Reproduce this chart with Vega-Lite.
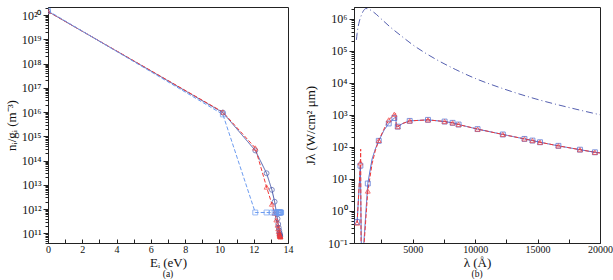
{
  "$schema": "https://vega.github.io/schema/vega-lite/v6.json",
  "padding": {"left": 4, "top": 1, "right": 4, "bottom": 0},
  "bounds": "flush",
  "spacing": 66,
  "config": {
    "font": "Liberation Serif",
    "view": {"stroke": "#222", "strokeWidth": 1},
    "axis": {
      "labelFont": "Liberation Serif", "titleFont": "Liberation Serif",
      "labelFontSize": 10, "titleFontSize": 13, "titleFontWeight": "normal",
      "grid": false, "domainColor": "#222", "tickColor": "#222",
      "labelColor": "#111", "titleColor": "#111", "labelFlush": false, "labelOverlap": false
    },
    "title": {"font": "Liberation Serif", "fontSize": 9.5, "fontWeight": "normal", "color": "#111"}
  },
  "datasets": {
    "lev": [
      {"E": 0, "n": 1.4e20, "s": "A"}, {"E": 10.2, "n": 9.5e15, "s": "A"}, {"E": 12.09, "n": 2.6e14, "s": "A"},
      {"E": 12.75, "n": 3.0e13, "s": "A"}, {"E": 13.06, "n": 6.2e12, "s": "A"}, {"E": 13.22, "n": 2.0e12, "s": "A"},
      {"E": 13.32, "n": 7.5e11, "s": "A"}, {"E": 13.39, "n": 4.0e11, "s": "A"}, {"E": 13.43, "n": 2.4e11, "s": "A"},
      {"E": 13.46, "n": 1.7e11, "s": "A"}, {"E": 13.49, "n": 1.3e11, "s": "A"}, {"E": 13.51, "n": 1.05e11, "s": "A"},
      {"E": 13.52, "n": 9.2e10, "s": "A"}, {"E": 13.53, "n": 8.5e10, "s": "A"}, {"E": 13.54, "n": 8.0e10, "s": "A"},
      {"E": 13.55, "n": 7.6e10, "s": "A"},
      {"E": 0, "n": 1.4e20, "s": "B"}, {"E": 10.2, "n": 1.0e16, "s": "B"}, {"E": 12.09, "n": 3.3e14, "s": "B"},
      {"E": 12.75, "n": 8.1e12, "s": "B"}, {"E": 13.06, "n": 1.6e12, "s": "B"}, {"E": 13.22, "n": 6.8e11, "s": "B"},
      {"E": 13.32, "n": 3.6e11, "s": "B"}, {"E": 13.39, "n": 2.2e11, "s": "B"}, {"E": 13.43, "n": 1.55e11, "s": "B"},
      {"E": 13.46, "n": 1.2e11, "s": "B"}, {"E": 13.49, "n": 1.0e11, "s": "B"}, {"E": 13.51, "n": 8.8e10, "s": "B"},
      {"E": 13.52, "n": 8.2e10, "s": "B"}, {"E": 13.53, "n": 7.8e10, "s": "B"}, {"E": 13.54, "n": 7.5e10, "s": "B"},
      {"E": 13.55, "n": 7.3e10, "s": "B"}, {"E": 13.56, "n": 7.1e10, "s": "B"},
      {"E": 0, "n": 1.5e20, "s": "C"}, {"E": 10.2, "n": 8.0e15, "s": "C"}, {"E": 12.09, "n": 7.2e11, "s": "C"},
      {"E": 12.75, "n": 7.2e11, "s": "C"}, {"E": 13.06, "n": 7.2e11, "s": "C"}, {"E": 13.22, "n": 7.2e11, "s": "C"},
      {"E": 13.32, "n": 7.2e11, "s": "C"}, {"E": 13.39, "n": 7.2e11, "s": "C"}, {"E": 13.43, "n": 7.2e11, "s": "C"},
      {"E": 13.46, "n": 7.2e11, "s": "C"}, {"E": 13.49, "n": 7.2e11, "s": "C"}, {"E": 13.51, "n": 7.2e11, "s": "C"},
      {"E": 13.53, "n": 7.2e11, "s": "C"}, {"E": 13.55, "n": 7.2e11, "s": "C"}, {"E": 13.57, "n": 7.2e11, "s": "C"},
      {"E": 13.6, "n": 7.2e11, "s": "C"}
    ],
    "bb": [
      {"l": 493, "j": 2.2e5}, {"l": 549, "j": 3.5e5}, {"l": 685, "j": 7.1e5}, {"l": 892, "j": 1.3e6},
      {"l": 1084, "j": 1.85e6}, {"l": 1268, "j": 2.1e6}, {"l": 1484, "j": 2.0e6}, {"l": 1883, "j": 1.6e6},
      {"l": 2547, "j": 9.4e5}, {"l": 3210, "j": 5.5e5}, {"l": 4145, "j": 2.8e5}, {"l": 5000, "j": 1.55e5},
      {"l": 5879, "j": 9.2e4}, {"l": 6806, "j": 5.6e4}, {"l": 8404, "j": 2.65e4}, {"l": 10003, "j": 1.38e4},
      {"l": 12137, "j": 6.8e3}, {"l": 14798, "j": 3.2e3}, {"l": 17467, "j": 1.72e3}, {"l": 20048, "j": 1.0e3}
    ],
    "spec": [
      {"l": 549, "j": 0.45, "m": 1, "s": "S"}, {"l": 812, "j": 26, "m": 1, "s": "S"}, {"l": 900, "j": 0.03, "m": 0, "s": "S"},
      {"l": 1000, "j": 0.03, "m": 0, "s": "S"}, {"l": 1404, "j": 7.2, "m": 1, "s": "S"}, {"l": 1750, "j": 42, "m": 0, "s": "S"},
      {"l": 2000, "j": 85, "m": 0, "s": "S"}, {"l": 2283, "j": 155, "m": 1, "s": "S"}, {"l": 2700, "j": 330, "m": 0, "s": "S"},
      {"l": 3082, "j": 540, "m": 1, "s": "S"}, {"l": 3530, "j": 800, "m": 1, "s": "S"}, {"l": 3660, "j": 830, "m": 0, "s": "S"},
      {"l": 3680, "j": 420, "m": 0, "s": "S"}, {"l": 3802, "j": 430, "m": 1, "s": "S"}, {"l": 4200, "j": 540, "m": 0, "s": "S"},
      {"l": 4760, "j": 650, "m": 1, "s": "S"}, {"l": 6223, "j": 700, "m": 1, "s": "S"}, {"l": 7557, "j": 620, "m": 1, "s": "S"},
      {"l": 8197, "j": 565, "m": 1, "s": "S"}, {"l": 8676, "j": 500, "m": 1, "s": "S"}, {"l": 10195, "j": 360, "m": 1, "s": "S"},
      {"l": 12217, "j": 245, "m": 1, "s": "S"}, {"l": 13951, "j": 178, "m": 1, "s": "S"}, {"l": 14590, "j": 158, "m": 1, "s": "S"},
      {"l": 15197, "j": 140, "m": 1, "s": "S"}, {"l": 16668, "j": 108, "m": 1, "s": "S"}, {"l": 18394, "j": 82, "m": 1, "s": "S"},
      {"l": 19593, "j": 68, "m": 1, "s": "S"}, {"l": 20000, "j": 65, "m": 0, "s": "S"},
      {"l": 549, "j": 0.42, "m": 1, "s": "T"}, {"l": 812, "j": 32, "m": 1, "s": "T"}, {"l": 835, "j": 85, "m": 0, "s": "T"},
      {"l": 870, "j": 0.03, "m": 0, "s": "T"}, {"l": 1020, "j": 0.03, "m": 0, "s": "T"}, {"l": 1404, "j": 4.2, "m": 1, "s": "T"},
      {"l": 1750, "j": 30, "m": 0, "s": "T"}, {"l": 2000, "j": 75, "m": 0, "s": "T"}, {"l": 2283, "j": 160, "m": 1, "s": "T"},
      {"l": 2700, "j": 360, "m": 0, "s": "T"}, {"l": 3082, "j": 700, "m": 1, "s": "T"}, {"l": 3530, "j": 1050, "m": 1, "s": "T"},
      {"l": 3660, "j": 1080, "m": 0, "s": "T"}, {"l": 3680, "j": 420, "m": 0, "s": "T"}, {"l": 3802, "j": 430, "m": 1, "s": "T"},
      {"l": 4200, "j": 540, "m": 0, "s": "T"}, {"l": 4760, "j": 650, "m": 1, "s": "T"}, {"l": 6223, "j": 700, "m": 1, "s": "T"},
      {"l": 7557, "j": 620, "m": 1, "s": "T"}, {"l": 8197, "j": 565, "m": 1, "s": "T"}, {"l": 8676, "j": 500, "m": 1, "s": "T"},
      {"l": 10195, "j": 360, "m": 1, "s": "T"}, {"l": 12217, "j": 245, "m": 1, "s": "T"}, {"l": 13951, "j": 178, "m": 1, "s": "T"},
      {"l": 14590, "j": 158, "m": 1, "s": "T"}, {"l": 15197, "j": 140, "m": 1, "s": "T"}, {"l": 16668, "j": 108, "m": 1, "s": "T"},
      {"l": 18394, "j": 82, "m": 1, "s": "T"}, {"l": 19593, "j": 68, "m": 1, "s": "T"}, {"l": 20000, "j": 65, "m": 0, "s": "T"}
    ]
  },
  "resolve": {"scale": {"color": "independent", "shape": "independent", "strokeDash": "independent"}},
  "hconcat": [
    {
      "width": 240, "height": 236,
      "title": {"text": "(a)", "orient": "bottom", "offset": 0},
      "data": {"name": "lev"},
      "encoding": {
        "x": {"field": "E", "type": "quantitative",
          "scale": {"domain": [0, 14], "nice": false, "zero": false},
          "axis": {"title": "Eᵢ (eV)", "values": [0,1,2,3,4,5,6,7,8,9,10,11,12,13,14], "format": "d",
            "labelExpr": "datum.value % 2 === 0 ? datum.label : ''", "tickSize": -4, "labelPadding": 5, "titlePadding": 2}},
        "y": {"field": "n", "type": "quantitative",
          "scale": {"type": "log", "domain": [3.98e10, 2.14e20], "nice": false},
          "axis": {"title": "nᵢ/gᵢ (m⁻³)", "tickCount": 20, "titlePadding": 3, "labelPadding": 2, "labelFontSize": 12,
            "labelExpr": "abs(log(datum.value)/LN10 - round(log(datum.value)/LN10)) < 0.001 ? '10' + ['¹⁰','¹¹','¹²','¹³','¹⁴','¹⁵','¹⁶','¹⁷','¹⁸','¹⁹','²⁰'][round(log(datum.value)/LN10) - 10] : ''",
            "tickSize": {"condition": {"test": "abs(log(datum.value)/LN10 - round(log(datum.value)/LN10)) < 0.001", "value": 5}, "value": 3}}},
        "color": {"field": "s", "type": "nominal", "legend": null,
          "scale": {"domain": ["A", "B", "C"], "range": ["#4b5bab", "#f03838", "#6d9cf0"]}}
      },
      "layer": [
        {"mark": {"type": "line", "strokeWidth": 1, "clip": true},
         "encoding": {"strokeDash": {"field": "s", "type": "nominal", "legend": null,
           "scale": {"domain": ["A", "B", "C"], "range": [[1, 0], [4, 2], [4, 2]]}}}},
        {"mark": {"type": "point", "filled": false, "size": 24, "strokeWidth": 1, "clip": true},
         "encoding": {"shape": {"field": "s", "type": "nominal", "legend": null,
           "scale": {"domain": ["A", "B", "C"], "range": ["circle", "triangle-up", "square"]}}}}
      ]
    },
    {
      "width": 246, "height": 236,
      "title": {"text": "(b)", "orient": "bottom", "offset": 0},
      "encoding": {
        "x": {"field": "l", "type": "quantitative",
          "scale": {"domain": [300, 20000], "nice": false, "zero": false},
          "axis": {"title": "λ (Å)", "values": [2500,5000,7500,10000,12500,15000,17500,20000], "format": "d",
            "labelExpr": "datum.value % 5000 === 0 ? datum.label : ''", "tickSize": -4, "labelPadding": 5, "titlePadding": 2}},
        "y": {"field": "j", "type": "quantitative",
          "scale": {"type": "log", "domain": [0.1, 2.34e6], "nice": false},
          "axis": {"title": "Jλ (W/cm² μm)", "tickCount": 20, "titlePadding": 10, "labelPadding": 2, "labelFontSize": 12,
            "labelExpr": "abs(log(datum.value)/LN10 - round(log(datum.value)/LN10)) < 0.001 ? '10' + ['⁻¹','⁰','¹','²','³','⁴','⁵','⁶'][round(log(datum.value)/LN10) + 1] : ''",
            "tickSize": {"condition": {"test": "abs(log(datum.value)/LN10 - round(log(datum.value)/LN10)) < 0.001", "value": 5}, "value": 3}}}
      },
      "layer": [
        {"data": {"name": "bb"},
         "mark": {"type": "line", "strokeWidth": 1, "clip": true, "color": "#5560b0", "strokeDash": [7, 3, 1, 3], "interpolate": "monotone"},
         "encoding": {}},
        {"data": {"name": "spec"},
         "mark": {"type": "line", "strokeWidth": 1, "clip": true},
         "encoding": {
           "color": {"field": "s", "type": "nominal", "legend": null,
             "scale": {"domain": ["S", "T"], "range": ["#4a68d0", "#f03838"]}},
           "strokeDash": {"field": "s", "type": "nominal", "legend": null,
             "scale": {"domain": ["S", "T"], "range": [[1, 0], [4, 2]]}}}},
        {"data": {"name": "spec"},
         "transform": [{"filter": "datum.m == 1"}],
         "mark": {"type": "point", "filled": false, "size": 24, "strokeWidth": 1, "clip": true},
         "encoding": {
           "color": {"field": "s", "type": "nominal", "legend": null,
             "scale": {"domain": ["S", "T"], "range": ["#4a68d0", "#f03838"]}},
           "shape": {"field": "s", "type": "nominal", "legend": null,
             "scale": {"domain": ["S", "T"], "range": ["square", "triangle-up"]}}}}
      ]
    }
  ]
}
